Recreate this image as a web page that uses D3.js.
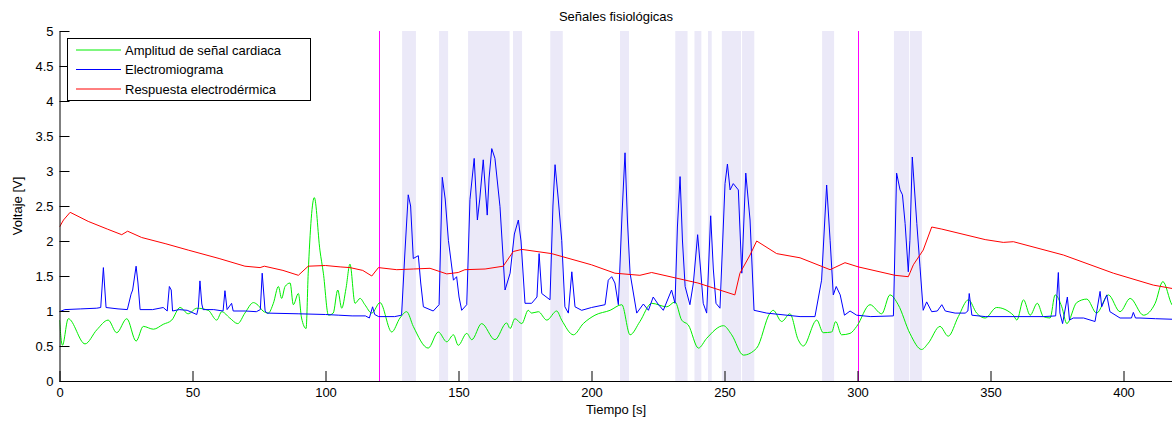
<!DOCTYPE html>
<html>
<head>
<meta charset="utf-8">
<script src="https://cdn.jsdelivr.net/npm/d3@7"></script>
<style>
  html, body { margin: 0; padding: 0; background: #fff; }
  svg { display: block; font-family: "Liberation Sans", Arial, sans-serif; }
</style>
</head>
<body>
<svg id="chart" width="1172" height="425"></svg>
<script>
// ---------- DATA ----------
const titleText = "Señales fisiológicas";
const xLabel = "Tiempo [s]";
const yLabel = "Voltaje [V]";
const seriesNames = ["Amplitud de señal cardiaca", "Electromiograma", "Respuesta electrodérmica"];
const seriesColors = ["#00ee00", "#0000ff", "#ff0000"];

const xTicks = [0, 50, 100, 150, 200, 250, 300, 350, 400];
const yTicks = [0, 0.5, 1, 1.5, 2, 2.5, 3, 3.5, 4, 4.5, 5];

const markerTimes = [120, 300];
const shadeStart = [128.8, 142.7, 153.6, 170.5, 184.5, 210.7, 231.5, 238.7, 243.8, 249.0, 256.6, 286.7, 313.7, 319.7];
const shadeEnd   = [134.0, 146.1, 169.2, 173.9, 189.2, 214.1, 236.1, 241.3, 245.2, 256.2, 261.2, 291.2, 319.4, 324.2];

// Respuesta electrodérmica (red)
const edaT = [0, 1.5, 4, 10.8, 18, 23.4, 25.6, 30.9, 40, 48.4, 60, 69.7, 75.4, 77, 84, 89.8, 93.5, 100, 105.5, 109.2, 114, 117.4, 119.9, 126.8, 133, 139.3, 145.6, 149.9, 152.4, 160, 166.8, 170.6, 173.8, 185, 200, 208.8, 218.2, 222.6, 240, 253.9, 255.8, 259.6, 262.1, 269.6, 278.4, 289.7, 295.3, 300.3, 314.1, 319.1, 321, 324.7, 327.9, 331.7, 348, 354.8, 358.6, 377.4, 396.2, 411.2, 420];
const edaV = [2.2, 2.3, 2.41, 2.28, 2.17, 2.09, 2.14, 2.05, 1.96, 1.87, 1.75, 1.64, 1.62, 1.64, 1.58, 1.51, 1.64, 1.65, 1.63, 1.62, 1.58, 1.5, 1.62, 1.59, 1.6, 1.61, 1.53, 1.55, 1.59, 1.6, 1.64, 1.85, 1.88, 1.82, 1.66, 1.54, 1.51, 1.55, 1.4, 1.23, 1.54, 1.8, 2.0, 1.82, 1.76, 1.59, 1.69, 1.63, 1.51, 1.49, 1.66, 1.87, 2.2, 2.17, 2.02, 1.98, 1.99, 1.8, 1.54, 1.37, 1.31];

// Electromiograma (blue)
const emgT = [0, 2, 8, 14, 15.5, 16.5, 17.5, 22, 25.5, 26.9, 27.5, 28.8, 29.5, 30.3, 35, 39, 40.5, 41.3, 42, 42.5, 45, 48, 51.6, 52.2, 52.8, 53.5, 54, 58, 61.5, 62.2, 63, 64.7, 65.3, 70, 74, 75.5, 76.2, 77.3, 78, 90, 100, 105, 110, 115, 116.5, 117.7, 118.5, 120, 126, 128.6, 129.8, 131.1, 132, 133, 134.9, 135.8, 136.8, 140.5, 142.7, 143.9, 145, 146.2, 148.1, 149.3, 150.2, 151.2, 153.1, 154.3, 155.9, 157.1, 158, 159.3, 160.8, 161.5, 162.5, 163.7, 165.6, 167.5, 169.4, 171, 172.5, 173.5, 175, 177.5, 179.5, 180.3, 181.3, 184.4, 185.5, 186.3, 187.5, 188.8, 190, 191.3, 192.6, 193.8, 196.3, 200, 205.1, 206.3, 207.6, 208.8, 210.1, 211.5, 212.6, 213.5, 214.5, 217, 219.5, 221.4, 223.2, 225, 227, 230.1, 231.4, 232.3, 233.3, 234.2, 235.2, 237, 238.3, 239.9, 241, 242, 243.3, 244.8, 245.8, 246.8, 248.3, 250.2, 251.1, 252.1, 253.3, 255.2, 256.5, 258, 259.6, 261.1, 265.9, 278.4, 284, 286.5, 288.4, 289.7, 290.9, 292, 293.5, 295.1, 297.2, 299.7, 305, 313.5, 314.7, 316, 316.9, 317.9, 319.1, 319.7, 320.6, 322.3, 323.5, 324.7, 326, 327.9, 330, 331.7, 333, 336.7, 340.5, 341.5, 342, 343, 348, 360, 370, 374.5, 375.5, 376.1, 377.1, 378.9, 379.7, 381.1, 385, 389.3, 391.2, 391.8, 393.7, 394.9, 398.7, 403, 403.7, 404.5, 406.2, 412, 420];
const emgV = [0.99, 1.02, 1.03, 1.04, 1.05, 1.62, 1.05, 1.03, 1.02, 1.24, 1.3, 1.64, 1.4, 1.02, 1.02, 1.05, 1.0, 1.35, 1.3, 1.0, 1.02, 1.01, 0.95, 1.05, 1.43, 1.1, 1.02, 1.02, 1.0, 1.29, 1.02, 1.11, 1.0, 1.0, 0.99, 1.02, 1.54, 1.0, 0.97, 0.96, 0.95, 0.94, 0.93, 0.93, 0.9, 1.06, 0.95, 0.92, 0.92, 0.94, 1.8, 2.66, 2.5, 1.75, 1.79, 1.4, 1.06, 1.0, 1.09, 2.91, 2.6, 2.01, 1.44, 1.49, 1.2, 1.01, 1.09, 2.59, 3.18, 2.3, 2.6, 3.16, 2.37, 2.9, 3.32, 3.18, 2.49, 1.3, 1.54, 2.1, 2.3, 2.0, 1.11, 1.11, 1.2, 1.82, 1.25, 1.16, 2.5, 3.09, 2.6, 2.01, 1.06, 0.97, 1.56, 1.06, 1.01, 1.05, 1.09, 1.44, 1.49, 1.4, 1.09, 2.4, 3.26, 2.3, 1.54, 0.97, 1.1, 1.01, 1.2, 1.1, 1.01, 1.3, 1.11, 2.2, 2.92, 2.0, 1.35, 1.09, 1.4, 2.09, 1.6, 1.11, 0.97, 2.36, 1.6, 1.11, 1.04, 2.82, 3.1, 2.73, 2.82, 2.73, 1.54, 2.97, 2.3, 1.01, 0.97, 0.92, 0.92, 1.44, 2.8, 2.01, 1.23, 1.35, 1.23, 0.94, 1.0, 0.94, 0.92, 0.93, 2.97, 2.73, 2.66, 2.25, 1.56, 2.01, 3.2, 2.25, 1.63, 1.01, 1.13, 0.99, 1.0, 1.09, 1.0, 0.97, 0.97, 1.0, 1.25, 0.94, 0.92, 0.92, 0.92, 0.93, 1.55, 0.97, 0.82, 1.2, 0.87, 0.9, 0.9, 0.85, 1.28, 1.06, 1.23, 0.99, 0.9, 0.9, 0.98, 0.9, 0.9, 0.89, 0.88];

// Amplitud de señal cardiaca (green)
const ecgT = [0, 1.1, 3.3, 9.6, 14, 18.3, 21.5, 25.3, 28.8, 31.5, 35.3, 39, 42.2, 45.3, 48.4, 51.6, 55.9, 59.1, 61, 64, 67, 69.7, 72.9, 74.7, 76.5, 78.5, 80.4, 82.3, 83.5, 84.8, 86.7, 87.9, 89.8, 91, 92.7, 93.5, 95.8, 97.9, 99.2, 101.1, 102.9, 104.6, 106.1, 107.7, 109.2, 111.1, 113, 114.8, 117.4, 120.5, 124.9, 128, 130.5, 133, 138.6, 142.4, 145.6, 148.1, 149.9, 153.1, 155, 158.7, 163.7, 168.1, 169.4, 171.2, 173.8, 176.2, 177.5, 180, 183.2, 186.9, 188.8, 193.2, 196.9, 201.3, 207, 211.4, 214.5, 218.2, 222.6, 228.3, 231.4, 233.9, 236.4, 240.2, 243.3, 249.6, 252.7, 257.1, 262.1, 267.1, 268.3, 271.5, 274.6, 277.7, 279.6, 284.7, 287.1, 290.3, 291.8, 294, 297.2, 299.7, 304.7, 309.1, 312.2, 315.3, 319.7, 324.1, 326.6, 331, 334.1, 337.9, 341.7, 344.8, 348, 352.3, 358.6, 359.9, 362.4, 364.9, 367.6, 369.9, 372.4, 374.3, 376.8, 378.7, 382.4, 386.2, 389.9, 394.3, 398.7, 402.5, 407.5, 411.9, 414.8, 418.2, 420];
const ecgV = [0.87, 0.51, 0.89, 0.53, 0.73, 0.87, 0.69, 0.89, 0.57, 0.78, 0.74, 0.81, 0.87, 1.05, 0.96, 1.04, 1.01, 0.87, 0.99, 0.9, 0.82, 0.97, 1.12, 1.08, 1.0, 0.97, 1.11, 1.35, 1.18, 1.35, 1.4, 1.09, 1.25, 0.9, 0.75, 1.54, 2.62, 1.87, 1.54, 0.94, 0.97, 1.3, 1.04, 1.32, 1.67, 1.11, 1.18, 1.09, 0.97, 1.12, 0.7, 0.9, 0.99, 0.78, 0.47, 0.7, 0.56, 0.66, 0.51, 0.68, 0.59, 0.82, 0.59, 0.83, 0.75, 0.89, 0.82, 1.01, 0.97, 0.99, 0.87, 1.0, 0.87, 0.66, 0.82, 0.94, 1.01, 1.09, 0.66, 0.85, 1.11, 1.06, 1.13, 0.87, 0.8, 0.47, 0.61, 0.79, 0.66, 0.37, 0.47, 0.97, 1.01, 0.85, 0.96, 0.59, 0.5, 0.87, 0.69, 0.7, 0.85, 0.66, 0.68, 0.78, 1.09, 0.96, 1.23, 1.09, 0.68, 0.45, 0.54, 0.78, 0.64, 0.92, 1.16, 0.97, 0.9, 1.05, 0.94, 0.87, 1.16, 0.94, 1.11, 0.92, 0.9, 1.23, 1.06, 0.82, 1.12, 1.17, 0.97, 1.23, 0.99, 1.18, 0.94, 1.11, 1.42, 1.09, 1.02];

// ---------- CHART ----------
const svg = d3.select("#chart");
const plotLeft = 59.5, plotRight = 1176.7, plotTop = 31, plotBottom = 381;
const x = d3.scaleLinear().domain([0, 420]).range([plotLeft, plotRight]);
const y = d3.scaleLinear().domain([0, 5]).range([plotBottom, plotTop]);

svg.append("defs").append("clipPath").attr("id", "clip")
  .append("rect").attr("x", plotLeft).attr("y", plotTop)
  .attr("width", plotRight - plotLeft).attr("height", plotBottom - plotTop);

const plot = svg.append("g").attr("clip-path", "url(#clip)");

// shaded intervals
plot.selectAll("rect.shade").data(d3.range(shadeStart.length)).enter()
  .append("rect").attr("class", "shade")
  .attr("x", i => x(shadeStart[i]))
  .attr("width", i => x(shadeEnd[i]) - x(shadeStart[i]))
  .attr("y", y(5)).attr("height", y(0) - y(5))
  .attr("fill", "#ebe9f8");

// marker lines
plot.selectAll("line.marker").data(markerTimes).enter()
  .append("line").attr("class", "marker")
  .attr("x1", d => Math.round(x(d)) + 0.5).attr("x2", d => Math.round(x(d)) + 0.5)
  .attr("y1", y(0)).attr("y2", y(5))
  .attr("stroke", "#ff00ff").attr("stroke-width", 1);

function series(ts, vs) { return ts.map((t, i) => [t, vs[i]]); }
const smooth = d3.line().x(d => x(d[0])).y(d => y(d[1])).curve(d3.curveMonotoneX);
const straight = d3.line().x(d => x(d[0])).y(d => y(d[1]));

plot.append("path").attr("d", smooth(series(ecgT, ecgV)))
  .attr("fill", "none").attr("stroke", seriesColors[0]).attr("stroke-width", 1);
plot.append("path").attr("d", straight(series(emgT, emgV)))
  .attr("fill", "none").attr("stroke", seriesColors[1]).attr("stroke-width", 1);
plot.append("path").attr("d", straight(series(edaT, edaV)))
  .attr("fill", "none").attr("stroke", seriesColors[2]).attr("stroke-width", 1);

// axes
const xAxis = d3.axisBottom(x).tickValues(xTicks).tickSizeInner(-10).tickSizeOuter(0).tickPadding(7)
  .tickFormat(d3.format("d"));
const gx = svg.append("g").attr("transform", `translate(0,${plotBottom})`).call(xAxis);
const yAxis = d3.axisLeft(y).tickValues(yTicks).tickSizeInner(-10).tickSizeOuter(0).tickPadding(6)
  .tickFormat(d => String(d));
const gy = svg.append("g").attr("transform", `translate(${plotLeft},0)`).call(yAxis);
[gx, gy].forEach(g => {
  g.select(".domain").attr("stroke", "#000").attr("stroke-width", 1);
  g.selectAll(".tick line").attr("stroke", "#000");
  g.selectAll(".tick text").attr("font-size", 13).attr("fill", "#000")
    .attr("font-family", "Liberation Sans, Arial, sans-serif");
});
gx.select(".domain").attr("d", `M${plotLeft},0.5H1172`);

// labels
svg.append("text").attr("x", 616).attr("y", 21).attr("text-anchor", "middle")
  .attr("font-size", 13).text(titleText);
svg.append("text").attr("x", 616).attr("y", 414).attr("text-anchor", "middle")
  .attr("font-size", 13).text(xLabel);
svg.append("text").attr("transform", `translate(22,${(plotTop + plotBottom) / 2}) rotate(-90)`)
  .attr("text-anchor", "middle").attr("font-size", 13).text(yLabel);

// legend
const lg = svg.append("g");
lg.append("rect").attr("x", 67.5).attr("y", 38.5).attr("width", 243).attr("height", 62)
  .attr("fill", "#fff").attr("stroke", "#000");
seriesNames.forEach((name, i) => {
  const ly = 50 + i * 19.5;
  lg.append("line").attr("x1", 76).attr("x2", 121).attr("y1", ly).attr("y2", ly)
    .attr("stroke", seriesColors[i]).attr("stroke-width", 1);
  lg.append("text").attr("x", 125).attr("y", ly + 4.5).attr("font-size", 13).text(name);
});
</script>
</body>
</html>
